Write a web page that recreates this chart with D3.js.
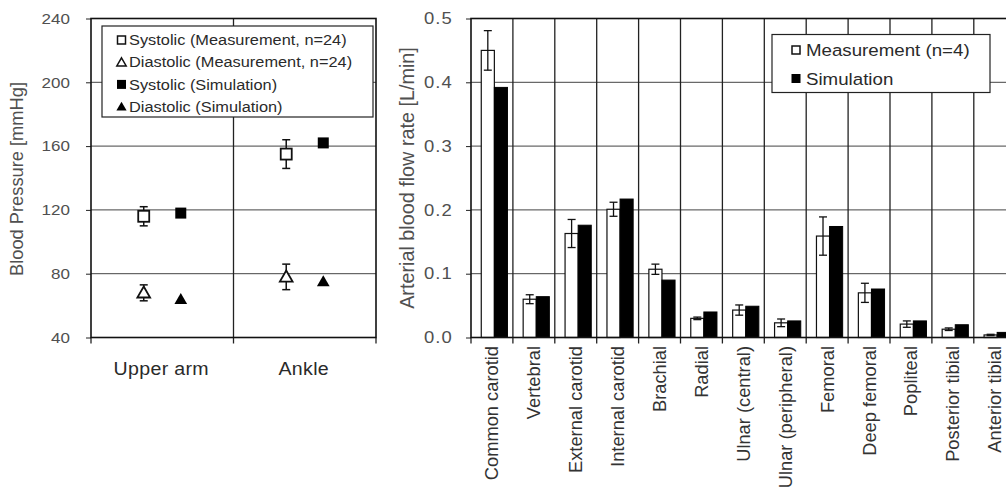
<!DOCTYPE html>
<html><head><meta charset="utf-8">
<script src="https://cdn.jsdelivr.net/npm/d3@7"></script>
<style>
html,body{margin:0;padding:0;background:#fff;}
svg{display:block;font-family:"Liberation Sans",Arial,sans-serif;}
</style></head>
<body>
<svg id="c" width="1006" height="489"></svg>
<script>
// ---- Left panel data ----
const bpSites = ["Upper arm", "Ankle"];
const bpSysMeas = [116, 155];
const bpSysMeasErr = [6, 9];
const bpDiaMeas = [68, 78];
const bpDiaMeasErr = [5, 8];
const bpSysSim = [118, 162];
const bpDiaSim = [64, 75];
const bpTicks = [40, 80, 120, 160, 200, 240];
const bpLegend = ["Systolic (Measurement, n=24)", "Diastolic (Measurement, n=24)", "Systolic (Simulation)", "Diastolic (Simulation)"];

// ---- Right panel data ----
const arteries = ["Common carotid", "Vertebral", "External carotid", "Internal carotid", "Brachial", "Radial",
  "Ulnar (central)", "Ulnar (peripheral)", "Femoral", "Deep femoral", "Popliteal", "Posterior tibial", "Anterior tibial"];
const flowMeas = [0.450, 0.060, 0.163, 0.201, 0.107, 0.030, 0.043, 0.023, 0.159, 0.070, 0.021, 0.013, 0.004];
const flowMeasErr = [0.031, 0.007, 0.022, 0.011, 0.008, 0.002, 0.008, 0.006, 0.030, 0.015, 0.005, 0.002, 0.001];
const flowSim = [0.392, 0.064, 0.176, 0.217, 0.090, 0.040, 0.049, 0.026, 0.174, 0.076, 0.026, 0.020, 0.008];
const flowTicks = [0.0, 0.1, 0.2, 0.3, 0.4, 0.5];
const flowLegend = ["Measurement (n=4)", "Simulation"];

const svg = d3.select("#c");
const txt = "#2a2a2a";
const lab = "#505050";
const SX = 1.12;
const yTop = 18.5, yBot = 337.5;

function hText(g, x, y, t, size, anchor, fill, ls) {
  return g.append("text").attr("transform", `translate(${x},${y}) scale(${SX},1)`)
    .attr("text-anchor", anchor).attr("font-size", size).attr("fill", fill)
    .attr("letter-spacing", ls || 0).text(t);
}
function styleTicks(gAxis, pad, size, ls) {
  gAxis.select(".domain").remove();
  gAxis.selectAll("line").attr("stroke", "#222");
  gAxis.selectAll("text").attr("x", 0).attr("font-size", size).attr("fill", lab)
    .attr("letter-spacing", ls).style("font-family", "Liberation Sans, Arial")
    .attr("transform", `translate(${-pad},0) scale(${SX},1)`);
}

// ================= LEFT PANEL =================
const L = {x0: 91, x1: 376};
const xL = d3.scaleBand().domain(bpSites).range([L.x0, L.x1]).padding(0);
const yL = d3.scaleLinear().domain([40, 240]).range([yBot, yTop]);
const gL = svg.append("g");

gL.selectAll(".hg").data(bpTicks.slice(1, -1)).join("line")
  .attr("x1", L.x0).attr("x2", L.x1).attr("y1", d => yL(d)).attr("y2", d => yL(d))
  .attr("stroke", "#444").attr("stroke-width", 1);
gL.append("line").attr("x1", xL("Ankle")).attr("x2", xL("Ankle")).attr("y1", yTop).attr("y2", yBot)
  .attr("stroke", "#222").attr("stroke-width", 1.3);

const gyL = gL.append("g").attr("transform", `translate(${L.x0},0)`)
  .call(d3.axisLeft(yL).tickValues(bpTicks).tickSize(5).tickFormat(d3.format("d")));
styleTicks(gyL, 21, 15.2, 0);
gL.append("g").attr("transform", `translate(0,${yBot})`).selectAll("line")
  .data([L.x0, xL("Ankle"), L.x1]).join("line")
  .attr("x1", d => d).attr("x2", d => d).attr("y1", 0).attr("y2", 6).attr("stroke", "#222").attr("stroke-width", 1.3);
bpSites.forEach(s => hText(gL, xL(s) + xL.bandwidth() / 2 - 1, 375, s, 17.5, "middle", txt, 0.3));
gL.append("text").attr("transform", `translate(23,179) rotate(-90)`)
  .attr("text-anchor", "middle").attr("font-size", 18.3).attr("fill", lab).text("Blood Pressure [mmHg]");

gL.append("rect").attr("x", L.x0).attr("y", yTop).attr("width", L.x1 - L.x0).attr("height", yBot - yTop)
  .attr("fill", "none").attr("stroke", "#111").attr("stroke-width", 1.6);

const measOff = 0.37, simOff = 0.63;
const sq = 11, tri = d3.symbol().type(d3.symbolTriangle).size(70);
function errBar(g, x, v, e) {
  const cap = 4;
  g.append("line").attr("x1", x).attr("x2", x).attr("y1", yL(v + e)).attr("y2", yL(v - e)).attr("stroke", "#111").attr("stroke-width", 1.5);
  [v + e, v - e].forEach(t => g.append("line").attr("x1", x - cap).attr("x2", x + cap).attr("y1", yL(t)).attr("y2", yL(t)).attr("stroke", "#111").attr("stroke-width", 1.5));
}
bpSites.forEach((s, i) => {
  const xm = xL(s) + xL.bandwidth() * measOff;
  const xs = xL(s) + xL.bandwidth() * simOff;
  errBar(gL, xm, bpSysMeas[i], bpSysMeasErr[i]);
  gL.append("rect").attr("x", xm - sq / 2).attr("y", yL(bpSysMeas[i]) - sq / 2).attr("width", sq).attr("height", sq)
    .attr("fill", "#fff").attr("stroke", "#111").attr("stroke-width", 1.8);
  errBar(gL, xm, bpDiaMeas[i], bpDiaMeasErr[i]);
  gL.append("path").attr("d", tri).attr("transform", `translate(${xm},${yL(bpDiaMeas[i]) + 1})`)
    .attr("fill", "#fff").attr("stroke", "#111").attr("stroke-width", 1.8);
  gL.append("rect").attr("x", xs - sq / 2).attr("y", yL(bpSysSim[i]) - sq / 2).attr("width", sq).attr("height", sq)
    .attr("fill", "#000");
  gL.append("path").attr("d", tri).attr("transform", `translate(${xs},${yL(bpDiaSim[i]) + 1})`).attr("fill", "#000");
});

const lgL = gL.append("g");
lgL.append("rect").attr("x", 102).attr("y", 26).attr("width", 271).attr("height", 91)
  .attr("fill", "#fff").attr("stroke", "#222").attr("stroke-width", 1.2);
bpLegend.forEach((t, i) => {
  const cy = 40 + i * 22.2;
  const cx = 121.5;
  if (i === 0) lgL.append("rect").attr("x", cx - 4).attr("y", cy - 4).attr("width", 8).attr("height", 8).attr("fill", "#fff").attr("stroke", "#111").attr("stroke-width", 1.5);
  if (i === 1) lgL.append("path").attr("d", d3.symbol().type(d3.symbolTriangle).size(38)).attr("transform", `translate(${cx},${cy + 1})`).attr("fill", "#fff").attr("stroke", "#111").attr("stroke-width", 1.5);
  if (i === 2) lgL.append("rect").attr("x", cx - 4.5).attr("y", cy - 4.5).attr("width", 9).attr("height", 9).attr("fill", "#000");
  if (i === 3) lgL.append("path").attr("d", d3.symbol().type(d3.symbolTriangle).size(45)).attr("transform", `translate(${cx},${cy + 1})`).attr("fill", "#000");
  hText(lgL, 129, cy + 5.2, t, 14.6, "start", txt, 0);
});

// ================= RIGHT PANEL =================
const R = {x0: 471, x1: 1015.7};
const xR = d3.scaleBand().domain(arteries).range([R.x0, R.x1]).padding(0);
const xS = d3.scaleBand().domain(["m", "s"]).range([0.245 * xR.bandwidth(), 0.87 * xR.bandwidth()]).padding(0);
const yR = d3.scaleLinear().domain([0, 0.5]).range([yBot, yTop]);
const gR = svg.append("g");

gR.selectAll(".hg").data(flowTicks.slice(1, -1)).join("line")
  .attr("x1", R.x0).attr("x2", R.x1).attr("y1", d => yR(d)).attr("y2", d => yR(d))
  .attr("stroke", "#444").attr("stroke-width", 1);
gR.selectAll(".vg").data(arteries.slice(1)).join("line")
  .attr("x1", d => xR(d)).attr("x2", d => xR(d)).attr("y1", yTop).attr("y2", yBot)
  .attr("stroke", "#222").attr("stroke-width", 1.3);

const gyR = gR.append("g").attr("transform", `translate(${R.x0},0)`)
  .call(d3.axisLeft(yR).tickValues(flowTicks).tickSize(5).tickFormat(d3.format(".1f")));
styleTicks(gyR, 18, 16.5, 1);
gR.append("g").attr("transform", `translate(0,${yBot})`).selectAll("line")
  .data(arteries.map(d => xR(d)).concat([R.x1])).join("line")
  .attr("x1", d => d).attr("x2", d => d).attr("y1", 0).attr("y2", 6).attr("stroke", "#222").attr("stroke-width", 1.3);
gR.selectAll(".cl").data(arteries).join("text")
  .attr("transform", d => `translate(${xR(d) + xR.bandwidth() / 2 + 6.5},346) rotate(-90)`)
  .attr("text-anchor", "end").attr("font-size", 18.3).attr("fill", "#333").text(d => d);
gR.append("text").attr("transform", `translate(414,178) rotate(-90)`)
  .attr("text-anchor", "middle").attr("font-size", 19.8).attr("fill", lab).text("Arterial blood flow rate [L/min]");

gR.selectAll(".bm").data(arteries).join("rect")
  .attr("x", d => xR(d) + xS("m")).attr("width", xS.bandwidth())
  .attr("y", (d, i) => yR(flowMeas[i])).attr("height", (d, i) => yBot - yR(flowMeas[i]))
  .attr("fill", "#fff").attr("stroke", "#111").attr("stroke-width", 1.2);
gR.selectAll(".bs").data(arteries).join("rect")
  .attr("x", d => xR(d) + xS("s")).attr("width", xS.bandwidth())
  .attr("y", (d, i) => yR(flowSim[i])).attr("height", (d, i) => yBot - yR(flowSim[i]))
  .attr("fill", "#000").attr("stroke", "#000").attr("stroke-width", 1);
arteries.forEach((a, i) => {
  const x = xR(a) + xS("m") + xS.bandwidth() / 2;
  const v = flowMeas[i], e = flowMeasErr[i], cap = 4;
  gR.append("line").attr("x1", x).attr("x2", x).attr("y1", yR(v + e)).attr("y2", yR(Math.max(0, v - e))).attr("stroke", "#111").attr("stroke-width", 1.3);
  [v + e, v - e].forEach(t => gR.append("line").attr("x1", x - cap).attr("x2", x + cap).attr("y1", yR(t)).attr("y2", yR(t)).attr("stroke", "#111").attr("stroke-width", 1.3));
});

gR.append("rect").attr("x", R.x0).attr("y", yTop).attr("width", R.x1 - R.x0).attr("height", yBot - yTop)
  .attr("fill", "none").attr("stroke", "#111").attr("stroke-width", 1.6);

const lgR = gR.append("g");
lgR.append("rect").attr("x", 772).attr("y", 34.5).attr("width", 218).attr("height", 58)
  .attr("fill", "#fff").attr("stroke", "#222").attr("stroke-width", 1.2);
flowLegend.forEach((t, i) => {
  const cy = 50 + i * 28.5;
  if (i === 0) lgR.append("rect").attr("x", 792).attr("y", cy - 4).attr("width", 8).attr("height", 8).attr("fill", "#fff").attr("stroke", "#111").attr("stroke-width", 1.5);
  else lgR.append("rect").attr("x", 791.5).attr("y", cy - 4.5).attr("width", 9).attr("height", 9).attr("fill", "#000");
  hText(lgR, 806, cy + 6, t, 16.7, "start", txt, 0);
});
</script>
</body></html>
